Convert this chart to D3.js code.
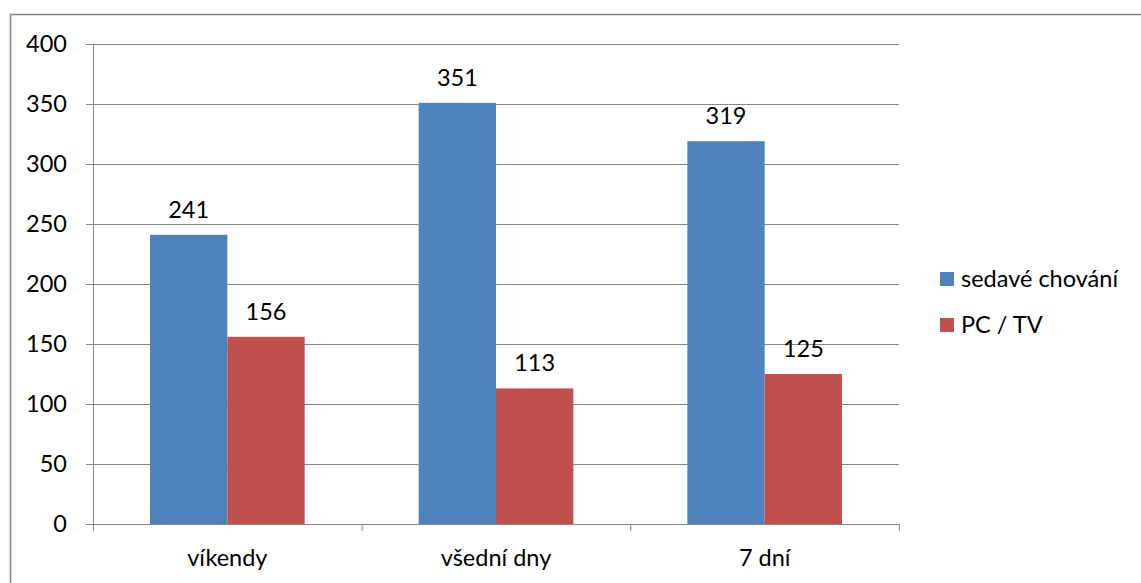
<!DOCTYPE html>
<html><head><meta charset="utf-8">
<script src="https://cdn.jsdelivr.net/npm/d3@7"></script>
<style>body{margin:0;background:#fff}svg{display:block}text{font-family:Lato,"Open Sans",sans-serif;fill:#000}</style>
</head><body>
<script>
const categories = ["víkendy", "všední dny", "7 dní"];
const seriesNames = ["sedavé chování", "PC / TV"];
const sedave = [241, 351, 319];
const pctv = [156, 113, 125];
const yTicks = [0, 50, 100, 150, 200, 250, 300, 350, 400];
const colors = ["#4F81BD", "#C0504D"];

(function () {
const W = 1141, H = 583, FS = "23.5px";
const svg = d3.select("body").append("svg").attr("width", W).attr("height", H);
svg.append("rect").attr("x", 10.5).attr("y", 14.5).attr("width", 1140).attr("height", 580)
  .attr("fill", "none").attr("stroke", "#868686").attr("stroke-width", 1.5);

const pLeft = 93, pRight = 899, pTop = 44, pBottom = 524;
const x = d3.scaleBand().domain(categories).range([pLeft, pRight]).paddingInner(0).paddingOuter(0);
const x1 = d3.scaleBand().domain(seriesNames).range([57, x.bandwidth() - 57]);
const y = d3.scaleLinear().domain([0, 400]).range([pBottom, pTop]);

const g = svg.append("g");
g.selectAll(".grid").data(yTicks).join("line")
  .attr("x1", pLeft - 7).attr("x2", pRight).attr("y1", d => y(d) + 0.5).attr("y2", d => y(d) + 0.5)
  .attr("stroke", "#868686").attr("stroke-width", 1);
g.append("line").attr("x1", pLeft + 0.5).attr("x2", pLeft + 0.5).attr("y1", pTop).attr("y2", pBottom + 6)
  .attr("stroke", "#868686");
const bounds = categories.map(c => x(c)).concat([pRight]);
g.selectAll(".xt").data(bounds).join("line")
  .attr("x1", d => d + 0.5).attr("x2", d => d + 0.5).attr("y1", pBottom).attr("y2", pBottom + 7)
  .attr("stroke", "#868686");
g.selectAll(".yl").data(yTicks).join("text")
  .attr("x", 67).attr("y", d => y(d) + 8).attr("text-anchor", "end")
  .style("font-size", FS).text(d => d);
g.selectAll(".xl").data(categories).join("text")
  .attr("x", d => x(d) + x.bandwidth() / 2).attr("y", 566).attr("text-anchor", "middle")
  .style("font-size", FS).text(d => d);

const data = [sedave, pctv];
data.forEach((vals, si) => {
  const gs = svg.append("g");
  gs.selectAll("rect").data(categories).join("rect")
    .attr("x", (c) => x(c) + x1(seriesNames[si]))
    .attr("width", x1.bandwidth())
    .attr("y", (c, i) => y(vals[i]))
    .attr("height", (c, i) => pBottom - y(vals[i]))
    .attr("fill", colors[si]);
  gs.selectAll("text").data(categories).join("text")
    .attr("x", (c) => x(c) + x1(seriesNames[si]) + x1.bandwidth() / 2)
    .attr("y", (c, i) => y(vals[i]) - 17)
    .attr("text-anchor", "middle").style("font-size", FS)
    .text((c, i) => vals[i]);
});

const leg = svg.append("g");
seriesNames.forEach((n, i) => {
  leg.append("rect").attr("x", 940).attr("y", 272 + i * 46).attr("width", 14).attr("height", 14).attr("fill", colors[i]);
  leg.append("text").attr("x", 961).attr("y", 287 + i * 46).style("font-size", FS).text(n);
});
})();
</script>
</body></html>
